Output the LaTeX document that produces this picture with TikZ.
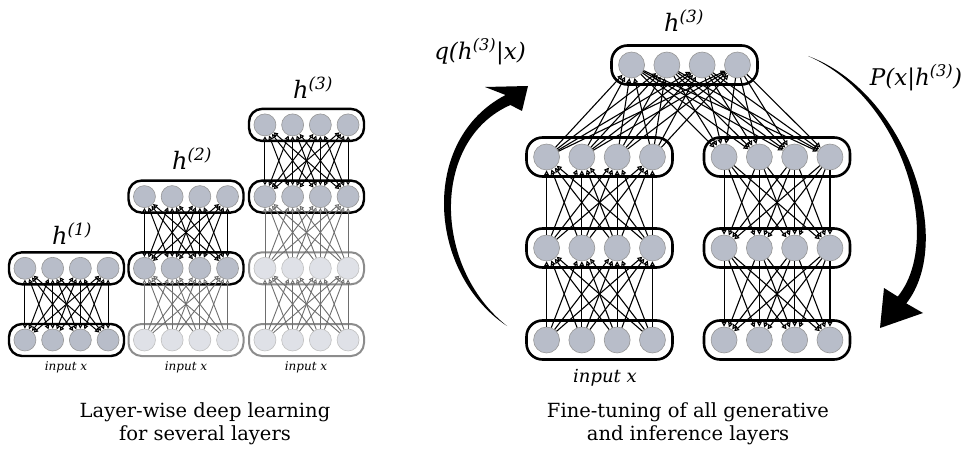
\documentclass[tikz,border=0pt]{standalone}
\usepackage{fontspec}
\setmainfont{DejaVu Serif}
\usetikzlibrary{arrows.meta}
\definecolor{ndark}{RGB}{184,189,201}
\definecolor{nlight}{RGB}{223,225,231}
\definecolor{nedge}{RGB}{150,150,150}
\definecolor{gbox}{RGB}{140,140,140}
\definecolor{gline}{RGB}{110,110,110}
\tikzset{
  dnode/.style={circle, draw=nedge, fill=ndark, line width=0.6pt, inner sep=0pt},
  lnode/.style={circle, draw=nedge!60, fill=nlight, line width=0.6pt, inner sep=0pt},
  smallnode/.style={minimum size=22pt},
  bignode/.style={minimum size=26pt},
  blackbox/.style={draw=black, line width=2.4pt, rounded corners=13pt, minimum width=115pt, minimum height=32pt},
  greybox/.style={draw=gbox, line width=2pt, rounded corners=13pt, minimum width=115pt, minimum height=32pt},
  bigbox/.style={draw=black, line width=2.6pt, rounded corners=16pt, minimum width=146pt, minimum height=39pt},
  link/.style={line width=1pt, draw=black},
  biglink/.style={line width=1.1pt, draw=black},
  glink/.style={line width=0.9pt, draw=gline},
  lbl/.style={font=\fontsize{24}{28}\selectfont\itshape},
  inlbl/.style={font=\fontsize{12}{14}\selectfont\itshape},
  caption/.style={font=\fontsize{19.5}{22.5}\selectfont, align=center},
  bigarrow/.style={fill=black, draw=none}
}
\begin{document}
\begin{tikzpicture}[x=1pt,y=-1pt,>={Triangle[length=4.5pt,width=4.5pt,fill=white]}]
\useasboundingbox (0,0) rectangle (966,449);

% ---------- left: layer-wise stacks ----------
\foreach \s/\cx/\n in {A/66.5/2, B/186/3, C/306.5/4}{
  \foreach \r in {1,...,\n}{
    \pgfmathsetmacro\yy{340-(\r-1)*71.7}
    \pgfmathtruncatemacro\light{(\r<=\n-2) ? 1 : 0}
    \ifnum\light=1
      \node[greybox] (\s-box-\r) at (\cx,\yy) {};
      \foreach \i in {1,...,4}{
        \node[lnode, smallnode] (\s-\r-\i) at ({\cx+(\i-2.5)*27.7},\yy) {};
      }
    \else
      \node[blackbox] (\s-box-\r) at (\cx,\yy) {};
      \foreach \i in {1,...,4}{
        \node[dnode, smallnode] (\s-\r-\i) at ({\cx+(\i-2.5)*27.7},\yy) {};
      }
    \fi
  }
  \pgfmathtruncatemacro\top{\n-1}
  \foreach \r in {1,...,\top}{
    \pgfmathtruncatemacro\rr{\r+1}
    \ifnum\r=\top
      \foreach \i in {1,...,4}{\foreach \j in {1,...,4}{
        \draw[link, <->] (\s-\r-\i) -- (\s-\rr-\j);
      }}
    \else
      \foreach \i in {1,...,4}{\foreach \j in {1,...,4}{
        \draw[glink, ->] (\s-\r-\i) -- (\s-\rr-\j);
      }}
    \fi
  }
}

\node[lbl] (hA) at (72,234) {h\textsuperscript{(1)}};
\node[lbl] (hB) at (192,159) {h\textsuperscript{(2)}};
\node[lbl] (hC) at (313,88) {h\textsuperscript{(3)}};
\node[inlbl] (inA) at (66,367) {input x};
\node[inlbl] (inB) at (186,367) {input x};
\node[inlbl] (inC) at (306,367) {input x};

% ---------- right: fine-tuning ----------
\foreach \s/\cx in {L/599.5, G/777}{
  \foreach \r/\yy in {1/340, 2/248, 3/157}{
    \node[bigbox] (\s-box-\r) at (\cx,\yy) {};
    \foreach \i in {1,...,4}{
      \node[dnode, bignode] (\s-\r-\i) at ({\cx+(\i-2.5)*35.3},\yy) {};
    }
  }
}
\node[bigbox] (T-box) at (684.5,65) {};
\foreach \i in {1,...,4}{
  \node[dnode, bignode] (T-\i) at ({684.5+(\i-2.5)*35.3},65) {};
}
\begin{scope}[>={Triangle[length=5pt,width=5pt,fill=white]}]
\foreach \r/\rr in {1/2, 2/3}{
  \foreach \i in {1,...,4}{\foreach \j in {1,...,4}{
    \draw[biglink, ->] (L-\r-\i) -- (L-\rr-\j);
    \draw[biglink, ->] (G-\rr-\j) -- (G-\r-\i);
  }}
}
\foreach \i in {1,...,4}{\foreach \j in {1,...,4}{
  \draw[biglink, ->] (L-3-\i) -- (T-\j);
  \draw[biglink, ->] (T-\j) -- (G-3-\i);
}}
\end{scope}

\node[lbl] (hT) at (684,21) {h\textsuperscript{(3)}};
\node[font=\fontsize{18}{22}\selectfont\itshape] (inR) at (605,378) {input x};
\node[font=\fontsize{23}{27}\selectfont\itshape] (q) at (480,52) {q(h\textsuperscript{(3)}|x)};
\node[font=\fontsize{23}{27}\selectfont\itshape] (p) at (916,78) {P(x|h\textsuperscript{(3)})};

% big curved arrows
\fill[bigarrow] (507,326) .. controls (427.6,273.2) and (419,140) .. (505.6,95)
  -- (485,87) -- (528,86) -- (522,111) -- (510.4,105)
  .. controls (431,140) and (432.4,266.8) .. (507,326) -- cycle;
\fill[bigarrow] (808,56) .. controls (906.1,92.2) and (956,240) .. (906.3,303.4)
  -- (923,313) -- (880,328) -- (884,288) -- (897.7,296.6)
  .. controls (944,240) and (903.9,97.8) .. (808,56) -- cycle;

% captions
\node[caption] (capL) at (205,424) {Layer-wise deep learning\\for several layers};
\node[caption] (capR) at (688,424) {Fine-tuning of all generative\\and inference layers};
\end{tikzpicture}
\end{document}
